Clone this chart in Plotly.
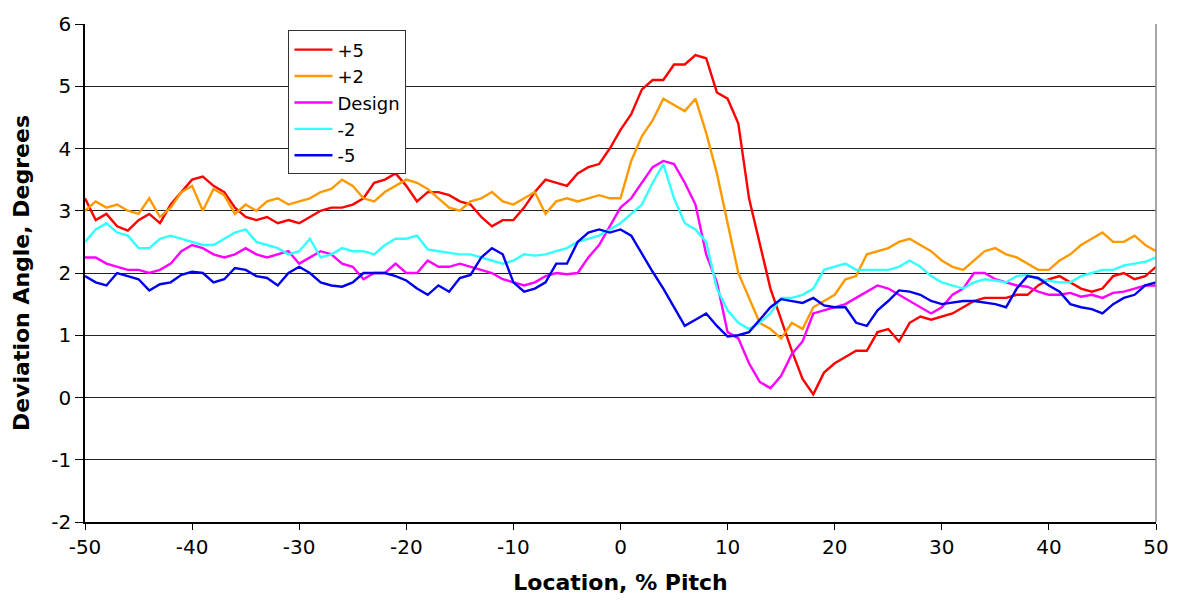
import plotly.graph_objects as go

# Location across the pitch (%), sampled every 1 %
location = list(range(-50, 51))

# Deviation angle (degrees) for each incidence setting
dev_plus5 = [
    3.2, 2.85, 2.95, 2.75, 2.68, 2.85, 2.95, 2.8, 3.1, 3.3,
    3.5, 3.55, 3.4, 3.3, 3.05, 2.9, 2.85, 2.9, 2.8, 2.85,
    2.8, 2.9, 3.0, 3.05, 3.05, 3.1, 3.2, 3.45, 3.5, 3.6,
    3.4, 3.15, 3.3, 3.3, 3.25, 3.15, 3.1, 2.9, 2.75, 2.85,
    2.85, 3.05, 3.3, 3.5, 3.45, 3.4, 3.6, 3.7, 3.75, 4.0,
    4.3, 4.55, 4.95, 5.1, 5.1, 5.35, 5.35, 5.5, 5.45, 4.9,
    4.8, 4.4, 3.2, 2.5, 1.75, 1.25, 0.75, 0.3, 0.05, 0.4,
    0.55, 0.65, 0.75, 0.75, 1.05, 1.1, 0.9, 1.2, 1.3, 1.25,
    1.3, 1.35, 1.45, 1.55, 1.6, 1.6, 1.6, 1.65, 1.65, 1.8,
    1.9, 1.95, 1.85, 1.75, 1.7, 1.75, 1.95, 2.0, 1.9, 1.95,
    2.1,
]
dev_plus2 = [
    3.0, 3.15, 3.05, 3.1, 3.0, 2.95, 3.2, 2.9, 3.05, 3.3,
    3.4, 3.0, 3.35, 3.25, 2.95, 3.1, 3.0, 3.15, 3.2, 3.1,
    3.15, 3.2, 3.3, 3.35, 3.5, 3.4, 3.2, 3.15, 3.3, 3.4,
    3.5, 3.45, 3.35, 3.2, 3.05, 3.0, 3.15, 3.2, 3.3, 3.15,
    3.1, 3.2, 3.3, 2.95, 3.15, 3.2, 3.15, 3.2, 3.25, 3.2,
    3.2, 3.8, 4.2, 4.45, 4.8, 4.7, 4.6, 4.8, 4.25, 3.6,
    2.8, 2.0, 1.6, 1.2, 1.1, 0.95, 1.2, 1.1, 1.45, 1.55,
    1.65, 1.9, 1.95, 2.3, 2.35, 2.4, 2.5, 2.55, 2.45, 2.35,
    2.2, 2.1, 2.05, 2.2, 2.35, 2.4, 2.3, 2.25, 2.15, 2.05,
    2.05, 2.2, 2.3, 2.45, 2.55, 2.65, 2.5, 2.5, 2.6, 2.45,
    2.35,
]
dev_design = [
    2.25, 2.25, 2.15, 2.1, 2.05, 2.05, 2.0, 2.05, 2.15, 2.35,
    2.45, 2.4, 2.3, 2.25, 2.3, 2.4, 2.3, 2.25, 2.3, 2.35,
    2.15, 2.25, 2.35, 2.3, 2.15, 2.1, 1.9, 2.0, 2.0, 2.15,
    2.0, 2.0, 2.2, 2.1, 2.1, 2.15, 2.1, 2.05, 2.0, 1.9,
    1.85, 1.8, 1.85, 1.95, 2.0, 1.98, 2.0, 2.25, 2.45, 2.75,
    3.05, 3.2, 3.45, 3.7, 3.8, 3.75, 3.45, 3.1, 2.3, 1.85,
    1.05, 0.95, 0.55, 0.25, 0.15, 0.35, 0.7, 0.9, 1.35, 1.4,
    1.45, 1.5, 1.6, 1.7, 1.8, 1.75, 1.65, 1.55, 1.45, 1.35,
    1.45, 1.65, 1.75, 2.0, 2.0, 1.9, 1.85, 1.8, 1.78, 1.7,
    1.65, 1.65, 1.68, 1.62, 1.65, 1.6, 1.68, 1.7, 1.75, 1.8,
    1.8,
]
dev_minus2 = [
    2.5, 2.7, 2.8, 2.65, 2.6, 2.4, 2.4, 2.55, 2.6, 2.55,
    2.5, 2.45, 2.45, 2.55, 2.65, 2.7, 2.5, 2.45, 2.4, 2.3,
    2.35, 2.55, 2.25, 2.3, 2.4, 2.35, 2.35, 2.3, 2.45, 2.55,
    2.55, 2.6, 2.38, 2.35, 2.32, 2.3, 2.3, 2.25, 2.2, 2.15,
    2.2, 2.3, 2.28, 2.3, 2.35, 2.4, 2.5, 2.55, 2.6, 2.7,
    2.8, 2.95, 3.1, 3.45, 3.75, 3.2, 2.8, 2.7, 2.5, 1.75,
    1.4, 1.2, 1.1, 1.2, 1.35, 1.6, 1.6, 1.65, 1.75, 2.05,
    2.1, 2.15, 2.05, 2.05, 2.05, 2.05, 2.1, 2.2, 2.1, 1.95,
    1.85, 1.8, 1.75, 1.85, 1.9, 1.88, 1.85, 1.95, 1.97, 1.9,
    1.88, 1.85, 1.85, 1.95, 2.0, 2.05, 2.05, 2.12, 2.15, 2.18,
    2.25,
]
dev_minus5 = [
    1.95, 1.85, 1.8, 2.0, 1.95, 1.9, 1.72, 1.82, 1.85, 1.97,
    2.02, 2.0, 1.85, 1.9, 2.08, 2.05, 1.95, 1.92, 1.8, 2.0,
    2.1, 2.0, 1.85, 1.8, 1.78, 1.85, 2.0, 2.0, 2.0, 1.95,
    1.88, 1.75, 1.65, 1.8, 1.7, 1.92, 1.97, 2.25, 2.4, 2.3,
    1.85, 1.7, 1.75, 1.85, 2.15, 2.15, 2.5, 2.65, 2.7, 2.65,
    2.7, 2.6, 2.3, 2.02, 1.75, 1.45, 1.15, 1.25, 1.35, 1.15,
    0.98, 1.0, 1.05, 1.25, 1.45, 1.58, 1.55, 1.52, 1.6, 1.48,
    1.45, 1.45, 1.2, 1.15, 1.4, 1.55, 1.72, 1.7, 1.65, 1.55,
    1.5, 1.52, 1.55, 1.55, 1.52, 1.5, 1.45, 1.75, 1.95, 1.92,
    1.8, 1.7, 1.5, 1.45, 1.42, 1.35, 1.5, 1.6, 1.65, 1.8,
    1.85,
]

series = [
    ("+5", dev_plus5, "#FF0000"),
    ("+2", dev_plus2, "#FF9900"),
    ("Design", dev_design, "#FF00FF"),
    ("-2", dev_minus2, "#33FFFF"),
    ("-5", dev_minus5, "#0000EE"),
]

x_ticks = list(range(-50, 51, 10))
y_ticks = list(range(-2, 7))

fig = go.Figure()
for name, values, color in series:
    fig.add_trace(go.Scatter(
        x=location, y=values, name=name, mode="lines",
        line=dict(color=color, width=2.4),
    ))

font_family = "DejaVu Sans, sans-serif"
title_font = dict(family="DejaVu Sans, sans-serif", size=22, color="black")

fig.update_layout(
    width=1181, height=603,
    margin=dict(l=85, r=19, t=19, b=78),
    paper_bgcolor="white", plot_bgcolor="white",
    font=dict(family=font_family, size=20, color="black"),
    showlegend=True,
    legend=dict(
        x=0.19, y=0.987, xanchor="left", yanchor="top",
        bgcolor="white", bordercolor="#333333", borderwidth=1,
        font=dict(size=18), tracegroupgap=0, itemwidth=38,
    ),
    xaxis=dict(
        range=[-50, 50], tickvals=x_ticks, ticktext=[str(v) for v in x_ticks],
        showgrid=False, zeroline=False,
        showline=True, linecolor="black", linewidth=1.5,
        ticks="outside", ticklen=6, tickcolor="black",
        title=dict(text="<b>Location, % Pitch</b>", font=title_font, standoff=17),
        tickfont=dict(size=20),
    ),
    yaxis=dict(
        range=[-2, 6], tickvals=y_ticks, ticktext=[str(v) for v in y_ticks],
        showgrid=True, gridcolor="#222222", gridwidth=1.2,
        zeroline=False,
        showline=True, linecolor="black", linewidth=1.5,
        ticks="outside", ticklen=8, tickcolor="black",
        title=dict(text="<b>Deviation Angle, Degrees</b>", font=title_font, standoff=16),
        tickfont=dict(size=20),
    ),
)

# right-hand border of the plot area
fig.add_shape(type="line", xref="paper", yref="paper", x0=1, x1=1, y0=0, y1=1,
              line=dict(color="#888888", width=1.5))

fig.write_html("out.html")
